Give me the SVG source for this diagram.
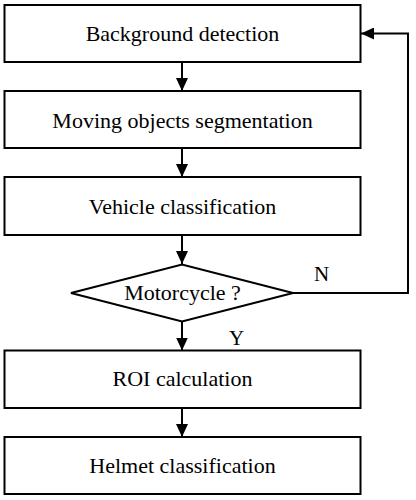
<svg xmlns="http://www.w3.org/2000/svg" width="416" height="500" viewBox="0 0 416 500">
<style>
.box{fill:#fff;stroke:#000;stroke-width:2}
.lbl{font-family:"Liberation Serif","Times New Roman",serif;font-size:22px;fill:#000;text-anchor:middle}
.sm{font-family:"Liberation Serif","Times New Roman",serif;font-size:21px;fill:#000}
.ln{fill:none;stroke:#000;stroke-width:2}
</style>
<defs>
<marker id="ah" markerWidth="13" markerHeight="12" refX="13" refY="6" orient="auto" markerUnits="userSpaceOnUse">
<path d="M0,0 L13,6 L0,12 Z" fill="#000"/>
</marker>
</defs>
<rect width="416" height="500" fill="#fff"/>
<g id="connectors">
<line class="ln" x1="182" y1="62" x2="182" y2="91" marker-end="url(#ah)"/>
<line class="ln" x1="182" y1="148" x2="182" y2="177" marker-end="url(#ah)"/>
<line class="ln" x1="182" y1="235" x2="182" y2="264" marker-end="url(#ah)"/>
<line class="ln" x1="182" y1="321.5" x2="182" y2="350.5" marker-end="url(#ah)"/>
<line class="ln" x1="182" y1="408" x2="182" y2="437" marker-end="url(#ah)"/>
<polyline class="ln" points="293,293 408,293 408,33.5 361,33.5" marker-end="url(#ah)"/>
<text class="sm" x="314" y="281">N</text>
<text class="sm" x="229" y="345">Y</text>
</g>
<g id="n1"><rect class="box" x="4.5" y="5" width="356" height="57"/><text class="lbl" x="182.5" y="41">Background detection</text></g>
<g id="n2"><rect class="box" x="4.5" y="91" width="356" height="57"/><text class="lbl" x="182.5" y="127.5">Moving objects segmentation</text></g>
<g id="n3"><rect class="box" x="4.5" y="177" width="356" height="58"/><text class="lbl" x="182.5" y="213.5">Vehicle classification</text></g>
<g id="n4"><polygon class="box" points="71,293 182,264.5 293,293 182,321.5"/><text class="lbl" x="182.5" y="300">Motorcycle ?</text></g>
<g id="n5"><rect class="box" x="4.5" y="350.5" width="356" height="57.5"/><text class="lbl" x="182.5" y="386">ROI calculation</text></g>
<g id="n6"><rect class="box" x="4.5" y="437" width="356" height="57"/><text class="lbl" x="182.5" y="473">Helmet classification</text></g>
</svg>
